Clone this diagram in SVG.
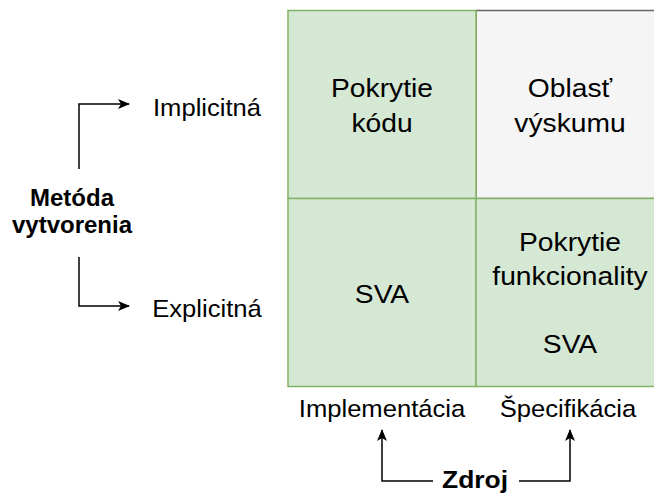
<svg xmlns="http://www.w3.org/2000/svg" width="654" height="493" viewBox="0 0 654 493">
<defs>
<style>
.g{fill:#d5e8d4;stroke:#82b366;stroke-width:1.5}
.y{fill:#f5f5f5;stroke:#666666;stroke-width:1.5}
text{font-family:"Liberation Sans",Arial,sans-serif;font-size:24px;fill:#000;text-anchor:middle}
.k{font-size:25px}
.b{font-weight:bold}
.c{fill:none;stroke:#000;stroke-width:1.5}
</style>
<marker id="ah" viewBox="0 0 12 10" refX="11" refY="5" markerWidth="12" markerHeight="10" markerUnits="userSpaceOnUse" orient="auto">
<path d="M0,0 L12,5 L0,10 L3,5 Z" fill="#000"/>
</marker>
</defs>
<g id="cell-tr"><rect class="y" x="476" y="10.5" width="188" height="188"/><text class="k" transform="translate(570,97) scale(1.13,1)">Oblasť</text><text class="k" transform="translate(570,132) scale(1.13,1)">výskumu</text></g>
<g id="cell-tl"><rect class="g" x="288" y="10.5" width="188" height="188"/><text class="k" transform="translate(382,97) scale(1.13,1)">Pokrytie</text><text class="k" transform="translate(382,132) scale(1.13,1)">kódu</text></g>
<g id="cell-bl"><rect class="g" x="288" y="198.5" width="188" height="188"/><text class="k" transform="translate(382,303) scale(1.13,1)">SVA</text></g>
<g id="cell-br"><rect class="g" x="476" y="198.5" width="188" height="188"/><text class="k" transform="translate(570,251) scale(1.13,1)">Pokrytie</text><text class="k" transform="translate(570,285) scale(1.13,1)">funkcionality</text><text class="k" transform="translate(570,353) scale(1.13,1)">SVA</text></g>
<g id="metoda"><text class="b" x="72" y="206">Metóda</text><text class="b" x="72" y="233">vytvorenia</text></g>
<g id="implicitna"><text transform="translate(207,116) scale(1.067,1)">Implicitná</text></g>
<g id="explicitna"><text transform="translate(207,317) scale(1.067,1)">Explicitná</text></g>
<g id="implementacia"><text transform="translate(382,417) scale(1.067,1)">Implementácia</text></g>
<g id="specifikacia"><text transform="translate(568,417) scale(1.067,1)">Špecifikácia</text></g>
<g id="zdroj"><text class="b" transform="translate(475,488) scale(1.1,1)">Zdroj</text></g>
<g id="connectors">
<path class="c" d="M79,169 V104 H129" marker-end="url(#ah)"/>
<path class="c" d="M79,257 V306 H129" marker-end="url(#ah)"/>
<path class="c" d="M433,481 H382 V430" marker-end="url(#ah)"/>
<path class="c" d="M519,481 H570 V430" marker-end="url(#ah)"/>
</g>
</svg>
